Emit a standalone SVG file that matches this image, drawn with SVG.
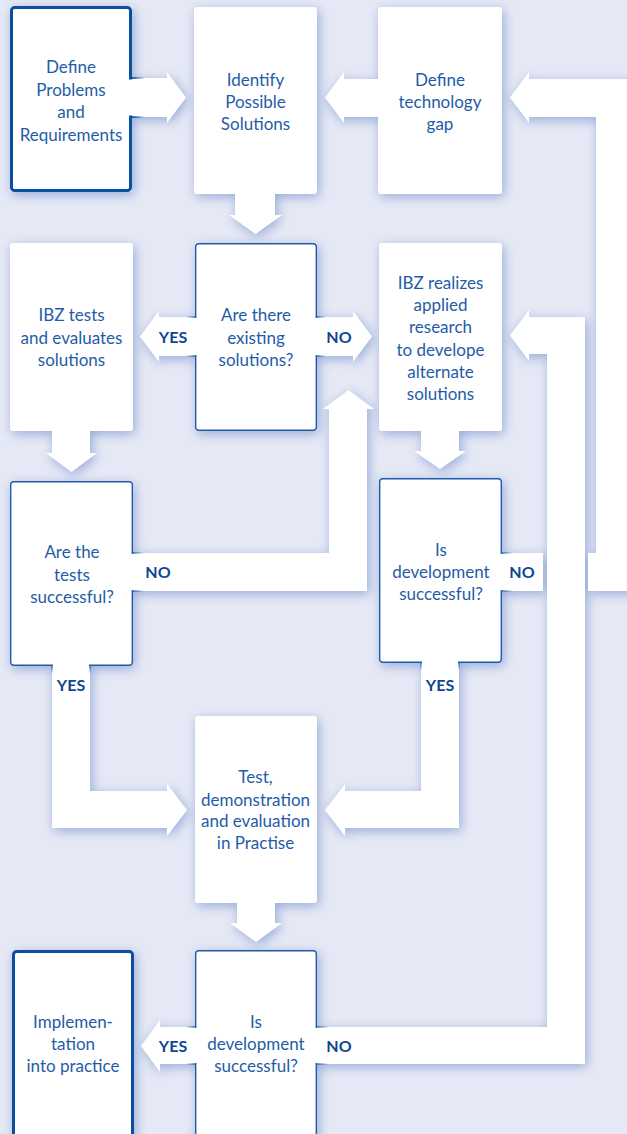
<svg xmlns="http://www.w3.org/2000/svg" width="627" height="1134" viewBox="0 0 627 1134">
<style>
.bg{fill:#e6e9f5}
.shape{fill:#ffffff}
.thick{fill:none;stroke:#0b4f9f;stroke-width:3}
.thin{fill:none;stroke:#1f5ca8;stroke-width:1.4}
.t{font-family:Lato,"Open Sans",sans-serif;font-size:17px;fill:#1f5ca8;text-anchor:middle}
.lbl{font-family:Lato,"Open Sans",sans-serif;font-size:16px;font-weight:bold;fill:#0d4891;text-anchor:middle}
.cover{fill:#ffffff}
</style>
<defs>
<filter id="sh" filterUnits="userSpaceOnUse" x="-60" y="-60" width="760" height="1260">
<feDropShadow dx="2" dy="3" stdDeviation="6" flood-color="#95aad9" flood-opacity="1"/>
</filter>
<linearGradient id="gR" x1="0" y1="0" x2="1" y2="0"><stop offset="0" stop-color="#1f5ca8"/><stop offset="1" stop-color="#1f5ca8" stop-opacity="0"/></linearGradient>
<linearGradient id="gL" x1="1" y1="0" x2="0" y2="0"><stop offset="0" stop-color="#1f5ca8"/><stop offset="1" stop-color="#1f5ca8" stop-opacity="0"/></linearGradient>
<linearGradient id="gD" x1="0" y1="0" x2="0" y2="1"><stop offset="0" stop-color="#1f5ca8"/><stop offset="1" stop-color="#1f5ca8" stop-opacity="0"/></linearGradient>
<linearGradient id="gRk" x1="0" y1="0" x2="1" y2="0"><stop offset="0" stop-color="#0b4f9f"/><stop offset="1" stop-color="#0b4f9f" stop-opacity="0"/></linearGradient>
</defs>
<rect class="bg" x="0" y="0" width="627" height="1134"/>

<g id="connectors">
<g filter="url(#sh)">
<!-- node backgrounds -->
<rect class="shape" x="10" y="6" width="122" height="186" rx="3"/>
<rect class="shape" x="194" y="7" width="123" height="187" rx="3"/>
<rect class="shape" x="378" y="7" width="124" height="187" rx="3"/>
<rect class="shape" x="10" y="243" width="123" height="188" rx="3"/>
<rect class="shape" x="195" y="243" width="122" height="188" rx="3"/>
<rect class="shape" x="379" y="243" width="123" height="188" rx="3"/>
<rect class="shape" x="10" y="481" width="123" height="185" rx="3"/>
<rect class="shape" x="379" y="478" width="123" height="185" rx="3"/>
<rect class="shape" x="195" y="716" width="122" height="187" rx="3"/>
<rect class="shape" x="12" y="950" width="122" height="210" rx="3"/>
<rect class="shape" x="195" y="950" width="122" height="210" rx="3"/>
<!-- arrows -->
<polygon class="shape" points="130,78 167,78 167,72 186,97.5 167,123 167,117 130,117"/>
<polygon class="shape" points="235,192 275,192 275,215 282,215 255.5,234 229,215 235,215"/>
<polygon class="shape" points="380,79 344,79 344,72 325,97.5 344,123 344,117 380,117"/>
<polygon class="shape" points="500,553 543,553 543,591 500,591"/>
<polygon class="shape" points="588,553 596,553 596,117 529,117 529,123 510,97.5 529,72 529,79 640,79 640,591 588,591"/>
<polygon class="shape" points="197,317 159,317 159,311 140,336.5 159,362 159,356 197,356"/>
<polygon class="shape" points="315,317 353,317 353,311 372,336.5 353,362 353,356 315,356"/>
<polygon class="shape" points="52,429 90,429 90,453 97,453 71.5,472 46,453 52,453"/>
<polygon class="shape" points="421,429 459,429 459,451 466,451 440,469 414,451 421,451"/>
<polygon class="shape" points="131,553 329,553 329,409 323,409 348.5,390 374,409 367,409 367,591 131,591"/>
<polygon class="shape" points="52,664 90,664 90,791 167,791 167,784 187,810 167,836 167,828 52,828"/>
<polygon class="shape" points="421,661 459,661 459,828 345,828 345,836 325,810 345,784 345,791 421,791"/>
<polygon class="shape" points="237,901 275,901 275,923 282,923 256,942 230,923 237,923"/>
<polygon class="shape" points="197,1027 160,1027 160,1020 141,1046 160,1072 160,1064 197,1064"/>
<polygon class="shape" points="315,1027 547,1027 547,354 529,354 529,361 510,335.5 529,310 529,317 585,317 585,1064 315,1064"/>
</g>
</g>

<g id="n-define-problems">
<rect class="thick" x="11.5" y="7.5" width="119" height="183" rx="3"/>
<rect class="cover" x="129" y="79.5" width="5" height="36"/>
<rect x="131" y="77" width="14" height="2" fill="url(#gRk)"/>
<rect x="131" y="116" width="14" height="2" fill="url(#gRk)"/>
<text class="t" x="71" y="73">Define</text>
<text class="t" x="71" y="95.5">Problems</text>
<text class="t" x="71" y="118">and</text>
<text class="t" x="71" y="140.5">Requirements</text>
</g>
<g id="n-identify">
<text class="t" x="255.5" y="86">Identify</text>
<text class="t" x="255.5" y="108">Possible</text>
<text class="t" x="255.5" y="130">Solutions</text>
</g>
<g id="n-tech-gap">
<text class="t" x="440" y="86">Define</text>
<text class="t" x="440" y="108">technology</text>
<text class="t" x="440" y="130">gap</text>
</g>
<g id="n-ibz-tests">
<text class="t" x="71.5" y="321">IBZ tests</text>
<text class="t" x="71.5" y="344">and evaluates</text>
<text class="t" x="71.5" y="366">solutions</text>
</g>
<g id="n-are-there">
<rect class="thin" x="195.7" y="243.7" width="120.6" height="186.6" rx="3"/>
<rect class="cover" x="194" y="318" width="3" height="37"/>
<rect class="cover" x="315" y="318" width="3" height="37"/>
<rect x="186" y="316.3" width="9.5" height="1.4" fill="url(#gL)"/>
<rect x="186" y="355.3" width="9.5" height="1.4" fill="url(#gL)"/>
<rect x="316.5" y="316.3" width="9.5" height="1.4" fill="url(#gR)"/>
<rect x="316.5" y="355.3" width="9.5" height="1.4" fill="url(#gR)"/>
<text class="t" x="256" y="321">Are there</text>
<text class="t" x="256" y="344">existing</text>
<text class="t" x="256" y="366">solutions?</text>
</g>
<g id="n-ibz-realizes">
<text class="t" x="440.5" y="289">IBZ realizes</text>
<text class="t" x="440.5" y="311">applied</text>
<text class="t" x="440.5" y="333">research</text>
<text class="t" x="440.5" y="356">to develope</text>
<text class="t" x="440.5" y="378">alternate</text>
<text class="t" x="440.5" y="400">solutions</text>
</g>
<g id="n-are-tests">
<rect class="thin" x="10.7" y="481.7" width="121.6" height="183.6" rx="3"/>
<rect class="cover" x="131" y="554" width="3" height="36"/>
<rect class="cover" x="53" y="664" width="36" height="3"/>
<rect x="132.3" y="552.3" width="12" height="1.4" fill="url(#gR)"/>
<rect x="132.3" y="590.3" width="12" height="1.4" fill="url(#gR)"/>
<rect x="51.3" y="665.5" width="1.4" height="8" fill="url(#gD)"/>
<rect x="89.3" y="665.5" width="1.4" height="8" fill="url(#gD)"/>
<text class="t" x="72" y="558">Are the</text>
<text class="t" x="72" y="581">tests</text>
<text class="t" x="72" y="603">successful?</text>
</g>
<g id="n-is-dev-1">
<rect class="thin" x="379.7" y="478.7" width="121.6" height="183.6" rx="3"/>
<rect class="cover" x="500" y="554" width="3" height="36"/>
<rect class="cover" x="422" y="661" width="36" height="3"/>
<rect x="501.3" y="552.3" width="12" height="1.4" fill="url(#gR)"/>
<rect x="501.3" y="590.3" width="12" height="1.4" fill="url(#gR)"/>
<rect x="420.3" y="662.5" width="1.4" height="8" fill="url(#gD)"/>
<rect x="458.3" y="662.5" width="1.4" height="8" fill="url(#gD)"/>
<text class="t" x="441" y="556">Is</text>
<text class="t" x="441" y="578">development</text>
<text class="t" x="441" y="600">successful?</text>
</g>
<g id="n-test-demo">
<text class="t" x="255.5" y="783">Test,</text>
<text class="t" x="255.5" y="806">demonstration</text>
<text class="t" x="255.5" y="827">and evaluation</text>
<text class="t" x="255.5" y="849">in Practise</text>
</g>
<g id="n-implementation">
<rect class="thick" x="13.5" y="951.5" width="119" height="210" rx="3"/>
<text class="t" x="73" y="1028">Implemen-</text>
<text class="t" x="73" y="1050">tation</text>
<text class="t" x="73" y="1072">into practice</text>
</g>
<g id="n-is-dev-2">
<rect class="thin" x="195.7" y="950.7" width="120.6" height="210" rx="3"/>
<rect class="cover" x="194" y="1028" width="3" height="35"/>
<rect class="cover" x="315" y="1028" width="3" height="35"/>
<rect x="186" y="1026.3" width="9.5" height="1.4" fill="url(#gL)"/>
<rect x="186" y="1063.3" width="9.5" height="1.4" fill="url(#gL)"/>
<rect x="316.5" y="1026.3" width="12" height="1.4" fill="url(#gR)"/>
<rect x="316.5" y="1063.3" width="12" height="1.4" fill="url(#gR)"/>
<text class="t" x="256" y="1028">Is</text>
<text class="t" x="256" y="1050">development</text>
<text class="t" x="256" y="1072">successful?</text>
</g>

<g id="labels">
<text class="lbl" x="173" y="343">YES</text>
<text class="lbl" x="339" y="343">NO</text>
<text class="lbl" x="158" y="578">NO</text>
<text class="lbl" x="522" y="578">NO</text>
<text class="lbl" x="71" y="691">YES</text>
<text class="lbl" x="440" y="691">YES</text>
<text class="lbl" x="173" y="1052">YES</text>
<text class="lbl" x="339" y="1052">NO</text>
</g>
</svg>
